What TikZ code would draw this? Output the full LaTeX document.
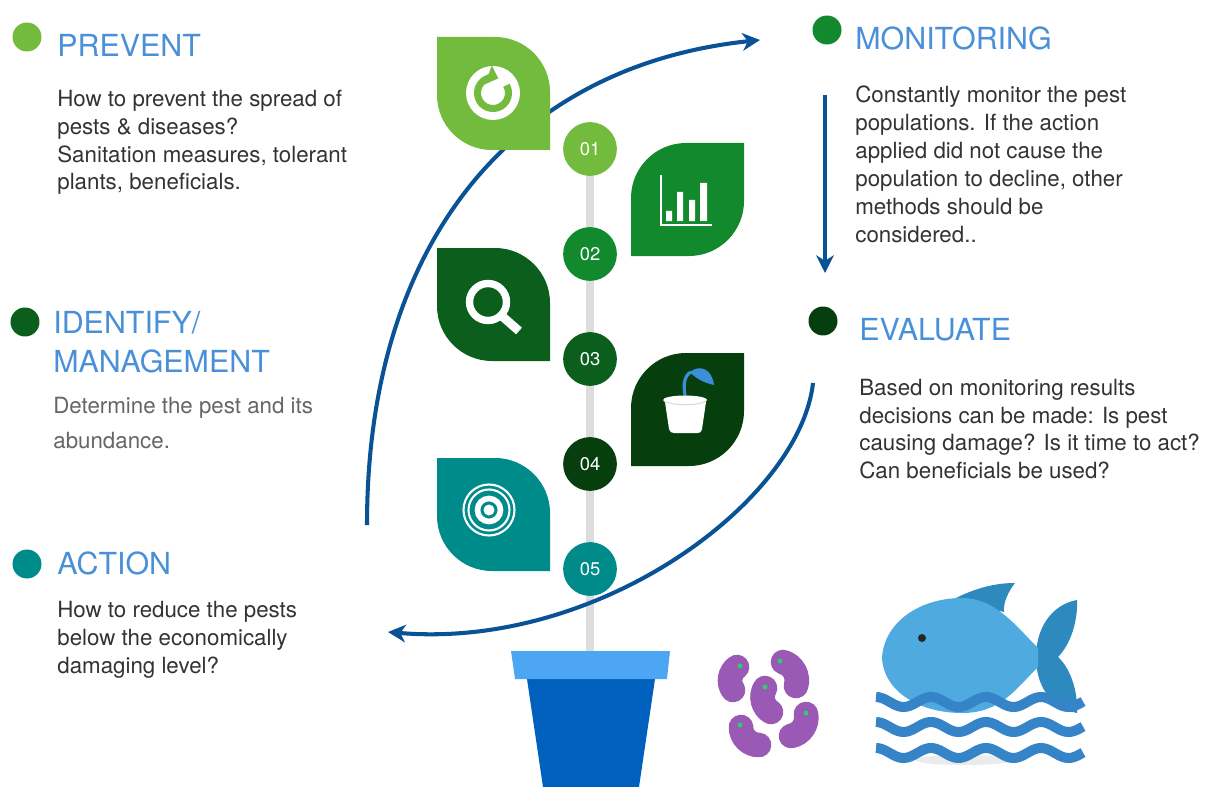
\documentclass[tikz,border=0pt]{standalone}
\usepackage{fontspec}
\setmainfont{TeX Gyre Heros}
\usepackage{xcolor}
\usepackage{tikz}
\usetikzlibrary{positioning, arrows.meta}

\definecolor{leafA}{HTML}{72BB3C}
\definecolor{leafB}{HTML}{12892C}
\definecolor{leafC}{HTML}{0B5E1B}
\definecolor{leafD}{HTML}{063E0D}
\definecolor{leafE}{HTML}{008B8B}
\definecolor{cycleblue}{HTML}{0A5296}
\definecolor{headblue}{HTML}{4A90D9}
\definecolor{bodygray}{HTML}{333333}
\definecolor{softgray}{HTML}{666666}
\definecolor{stemgray}{HTML}{DDDDDD}
\definecolor{potrim}{HTML}{4DA6F4}
\definecolor{potbody}{HTML}{0060BE}
\definecolor{sprout}{HTML}{3B8FD9}
\definecolor{germ}{HTML}{9B59B6}
\definecolor{germdot}{HTML}{2ECC71}
\definecolor{fishbody}{HTML}{4FAADF}
\definecolor{fishfin}{HTML}{2E89BE}
\definecolor{water}{HTML}{3584C8}

% leaf tiles, anchored at their top left corner
\tikzset{
  pics/leafleft/.style={code={
    \fill (0,0) -- (58,0) arc[start angle=90, end angle=0, radius=55]
      -- (113,-113) -- (55,-113) arc[start angle=270, end angle=180, radius=55] -- cycle;
  }},
  pics/leafright/.style={code={
    \fill (113,0) -- (113,-58) arc[start angle=0, end angle=-90, radius=55]
      -- (0,-113) -- (0,-55) arc[start angle=180, end angle=90, radius=55] -- cycle;
  }},
}

\begin{document}
\begin{tikzpicture}[
  x=0.02cm, y=0.02cm,
  bullet/.style={circle, inner sep=0pt, minimum size=16.5pt},
  title/.style={anchor=base west, inner sep=0pt, text=headblue,
                font=\fontsize{17.3}{22}\selectfont},
  body/.style={inner sep=0pt, align=left, text=bodygray,
               font=\fontsize{12.7}{15.9}\selectfont},
  num/.style={circle, inner sep=0pt, minimum size=30.6pt, text=white,
              font=\fontsize{10.5}{12}\selectfont},
  stem/.style={line width=4.5pt, draw=stemgray},
  arr/.style={-{Stealth[length=10pt, width=10pt, inset=3pt]}, line width=2.3pt,
              draw=cycleblue},
  icon/.style={draw=white, line width=1.1pt},
  bean/.style={line width=14pt, line cap=round, draw=germ},
  wave/.style={line width=5.7pt, draw=water},
]
\path[use as bounding box, fill=white] (0,0) rectangle (1206,-787);

% stem
\coordinate (stemtop) at (590,-149);
\coordinate (rim) at (590,-651);
\draw[stem] (stemtop) -- (rim);

% cycle arrows
\coordinate (cycA) at (367,-525);
\coordinate (cycB) at (760,-40);
\draw[arr] (cycA) .. controls (367,-235) and (520,-65) .. (cycB);
\coordinate (monA) at (825,-95);
\coordinate (monB) at (825,-273);
\draw[arr] (monA) -- (monB);
\coordinate (evalA) at (813,-383);
\coordinate (evalB) at (388,-632);
\draw[arr] (evalA) .. controls (800,-500) and (600,-650) .. (evalB);

% leaves
\pic[color=leafA] at (437,-37) {leafleft};
\pic[color=leafB] at (631,-143) {leafright};
\pic[color=leafC] at (437,-248) {leafleft};
\pic[color=leafD] at (631,-353) {leafright};
\pic[color=leafE] at (437,-458) {leafleft};

% steps on the stem
\node[num, fill=leafA] (n1) at (stemtop) {01};
\node[num, fill=leafB] (n2) at (590,-254) {02};
\node[num, fill=leafC] (n3) at (590,-359) {03};
\node[num, fill=leafD] (n4) at (590,-464) {04};
\node[num, fill=leafE] (n5) at (590,-569) {05};

% pot
\fill[potbody] (527,-679) -- (655,-679) -- (639,-787) -- (543,-787) -- cycle;
\fill[potrim] (511,-651) -- (670,-651) -- (667,-679) -- (515,-679) -- cycle;

% refresh icon
\fill[white] (493,-93) circle[radius=27];
\draw[leafA, line width=4pt, -{Triangle[length=6pt, width=11pt]}]
  (493,-93) ++(30:15.5) arc[start angle=30, end angle=-290, radius=15.5];

% chart icon
\draw[icon] (661,-175) -- (661,-225) -- (712,-225);
\fill[white] (666,-211) rectangle (672,-221) (677,-192) rectangle (683,-221)
  (689,-200) rectangle (695,-221) (700,-183) rectangle (707,-221);

% magnifier icon
\draw[white, line width=4.2pt] (488,-302) circle[radius=18.5];
\draw[white, line width=5pt] (488,-302) ++(-45:21) -- (519,-331);

% seedling icon
\draw[sprout, line width=1.8pt] (686,-400) .. controls (683,-388) and (683,-376) .. (691,-372);
\fill[sprout] (690,-372) .. controls (700,-364) and (712,-369) .. (714,-385)
  .. controls (705,-383) and (696,-379) .. cycle;
\fill[white] (665,-402) -- (706,-402) -- (702,-429) .. controls (701,-433) and (699,-433) .. (697,-433)
  -- (674,-433) .. controls (671,-433) and (670,-432) .. (669,-429) -- cycle;
\fill[white] (685,-400) ellipse[x radius=22, y radius=4.5];
\draw[black!15, line width=0.6pt] (664,-401) .. controls (672,-406) and (698,-406) .. (706,-401);

% target icon
\fill[white] (489,-510) circle[radius=5.5];
\draw[white, line width=3.2pt] (489,-510) circle[radius=11.5];
\draw[white, line width=1.2pt] (489,-510) circle[radius=20.5];
\draw[white, line width=1.2pt] (489,-510) circle[radius=25.5];

% bullets and headings
\node[bullet, fill=leafA] (bPrevent) at (27,-37) {};
\node[bullet, fill=leafB] (bMonitor) at (827,-30) {};
\node[bullet, fill=leafC] (bIdentify) at (25,-322) {};
\node[bullet, fill=leafD] (bEvaluate) at (823,-321) {};
\node[bullet, fill=leafE] (bAction) at (27,-564) {};

\node[title] (tPrevent) at (57,-57) {PREVENT};
\node[title] (tMonitor) at (855,-50) {MONITORING};
\node[title, anchor=north west, align=left] (tIdentify) at (53,-311) {IDENTIFY/\\MANAGEMENT};
\node[title] (tEvaluate) at (859,-340) {EVALUATE};
\node[title] (tAction) at (57,-574) {ACTION};

\node[body, below=18.5pt of tPrevent.base west, anchor=north west] (dPrevent)
  {How to prevent the spread of\\pests \& diseases?\\Sanitation measures, tolerant\\plants, beneficials.};
\node[body, below=20.2pt of tMonitor.base west, anchor=north west] (dMonitor)
  {Constantly monitor the pest\\populations. If the action\\applied did not cause the\\population to decline, other\\methods should be\\considered..};
\node[body, below=13.4pt of tIdentify.south west, anchor=north west, text=softgray,
      font=\fontsize{12.7}{19.8}\selectfont] (dIdentify)
  {Determine the pest and its\\abundance.};
\node[body, below=21.9pt of tEvaluate.base west, anchor=north west] (dEvaluate)
  {Based on monitoring results\\decisions can be made: Is pest\\causing damage? Is it time to act?\\Can beneficials be used?};
\node[body, below=15.1pt of tAction.base west, anchor=north west] (dAction)
  {How to reduce the pests\\below the economically\\damaging level?};

% bacteria
\draw[bean] (737,-667) to[bend right=45] (733,-690);
\draw[bean] (783,-662) to[bend left=45] (796,-686);
\draw[bean] (765,-688) to[bend right=45] (771,-712);
\draw[bean] (741,-727) to[bend right=45] (759,-745);
\draw[bean] (806,-714) to[bend left=45] (791,-736);
\fill[germdot] (740,-666) circle[radius=2.5] (780,-661) circle[radius=2.5]
  (765,-687) circle[radius=2.5] (740,-725) circle[radius=2.5] (806,-713) circle[radius=2.5];

% fish
\fill[fishfin] (952,-600) .. controls (975,-588) and (995,-583) .. (1015,-583)
  .. controls (1008,-592) and (1003,-603) .. (1004,-612) -- cycle;
\fill[fishfin] (1077,-600) .. controls (1050,-605) and (1036,-630) .. (1036,-657)
  .. controls (1036,-685) and (1050,-708) .. (1077,-713)
  .. controls (1078,-690) and (1070,-668) .. (1058,-657)
  .. controls (1070,-645) and (1078,-622) .. cycle;
\fill[fishbody] (882,-658) .. controls (884,-622) and (920,-598) .. (962,-598)
  .. controls (995,-598) and (1015,-625) .. (1038,-648) -- (1038,-667)
  .. controls (1015,-690) and (1000,-713) .. (962,-713)
  .. controls (920,-713) and (884,-692) .. cycle;
\fill[black!85] (922,-638) circle[radius=4];

% water
\fill[black!8] (965,-760) ellipse[x radius=50, y radius=5];
\draw[wave] plot[domain=876:1083, samples=80] (\x, {-702 + 5*cos(6.5455*(\x-876))});
\draw[wave] plot[domain=876:1083, samples=80] (\x, {-727 + 5*cos(6.5455*(\x-876))});
\draw[wave] plot[domain=876:1083, samples=80] (\x, {-753 + 5*cos(6.5455*(\x-876))});
\end{tikzpicture}
\end{document}
